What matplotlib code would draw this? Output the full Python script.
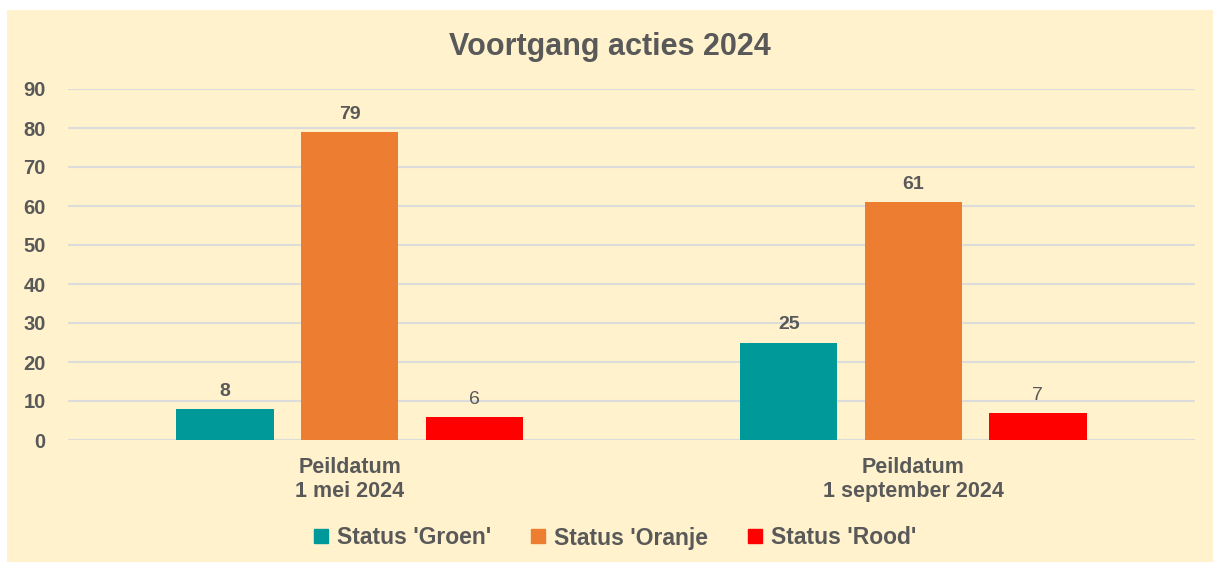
import numpy as np
import matplotlib
matplotlib.use("Agg")
import matplotlib.pyplot as plt
from matplotlib.patches import Rectangle
from matplotlib.lines import Line2D

plt.rcParams['font.family'] = ['Liberation Sans', 'DejaVu Sans']

# data
categories = ["Peildatum\n1 mei 2024", "Peildatum\n1 september 2024"]
series_names = ["Status 'Groen'", "Status 'Oranje", "Status 'Rood'"]
groen = [8, 25]
oranje = [79, 61]
rood = [6, 7]
yticks = [0, 10, 20, 30, 40, 50, 60, 70, 80, 90]

colors = ["#009999", "#ED7D31", "#FF0000"]
TXT = "#595959"
BG = "#FFF2CC"

W, H = 1213, 562
fig = plt.figure(figsize=(W / 100, H / 100), dpi=100, facecolor="white")
fig.patches.append(Rectangle((7 / W, 0), 1 - 7 / W, (H - 10) / H,
                             transform=fig.transFigure, facecolor=BG,
                             edgecolor="none", zorder=-10))

ax = fig.add_axes([68 / W, (H - 440) / H, (1195 - 68) / W, (440 - 89) / H])
ax.set_facecolor("none")

x = np.arange(len(categories))
bw = 0.173
step = 0.221
for i, (vals, c) in enumerate(zip([groen, oranje, rood], colors)):
    xs = x + (i - 1) * step
    ax.bar(xs, vals, width=bw, color=c, label=series_names[i], zorder=3)
    for xi, v in zip(xs, vals):
        ax.annotate(str(v), (xi, v), xytext=(0, 6.5), textcoords="offset points",
                    ha="center", va="bottom", fontsize=14, color=TXT,
                    fontweight="normal" if i == 2 else "bold")

ax.set_xlim(-0.5, 1.5)
ax.set_ylim(0, 90)
ax.set_yticks(yticks)
ax.set_xticks(x)
ax.set_xticklabels(categories, fontsize=15.5, color=TXT, fontweight="bold",
                   linespacing=1.2)
ax.tick_params(axis="both", length=0)
ax.tick_params(axis="y", pad=16, labelsize=14.5, labelcolor=TXT)
ax.tick_params(axis="x", pad=12)
for lab in ax.get_yticklabels():
    lab.set_fontweight("bold")
ax.grid(axis="y", color="#DCDCDC", lw=1.5, zorder=0)
for sp in ax.spines.values():
    sp.set_visible(False)

fig.text(610 / W, 1 - 55 / H, "Voortgang acties 2024", ha="center", va="baseline",
         fontsize=22, fontweight="bold", color=TXT)

handles = [Line2D([], [], marker="s", ls="none", markersize=10,
                  markerfacecolor=c, markeredgecolor=c) for c in colors]
leg = fig.legend(handles, series_names, loc="center", bbox_to_anchor=(615 / W, 1 - 538 / H),
                 ncol=3, frameon=False, handlelength=0.7, handletextpad=0.35,
                 columnspacing=1.7, prop={"size": 16.5, "weight": "bold"})
for t in leg.get_texts():
    t.set_color(TXT)

fig.savefig("out.png", dpi=100)
